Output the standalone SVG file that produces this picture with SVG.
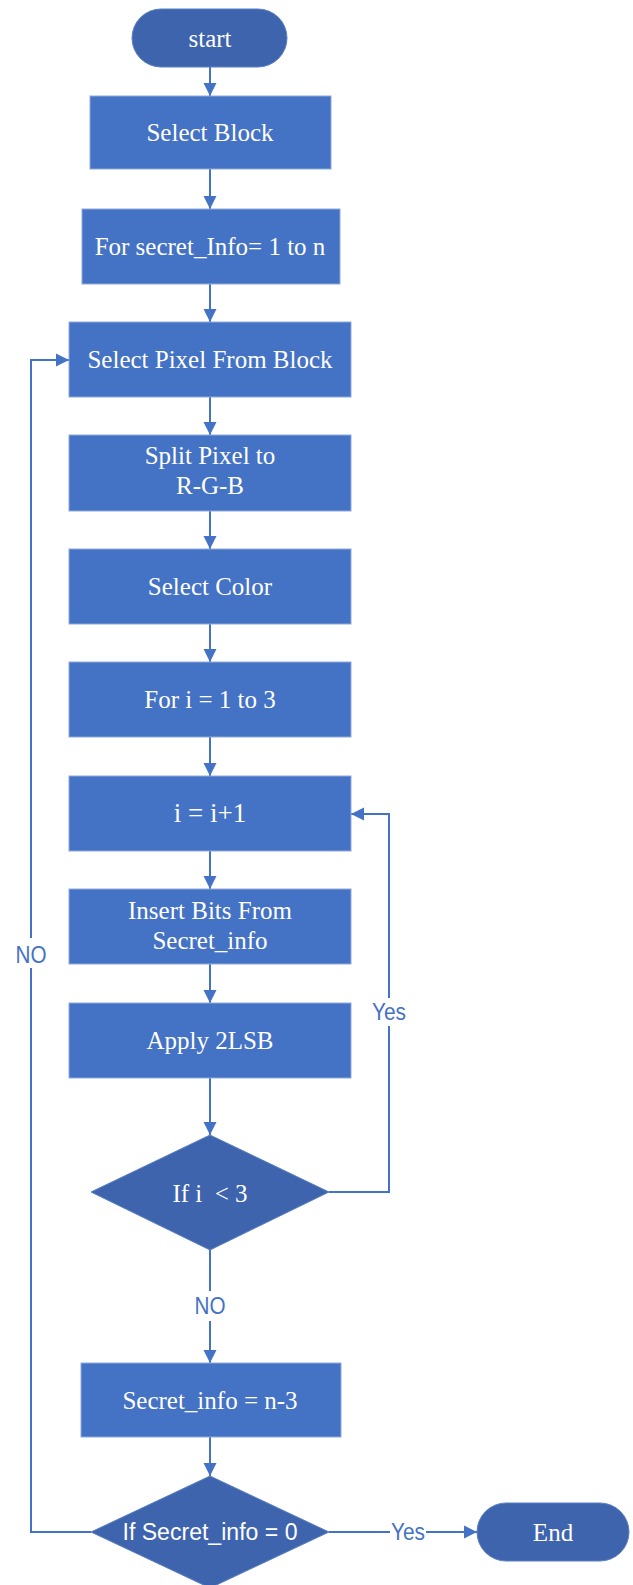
<svg xmlns="http://www.w3.org/2000/svg" width="633" height="1585" viewBox="0 0 633 1585">
<style>
.box{fill:#4472C4;stroke:#8FAADC;stroke-width:1}
.term{fill:#3E64AD;stroke:#5B7FC4;stroke-width:1}
.dia{fill:#3E64AD;stroke:#5B7FC4;stroke-width:1}
.t{font-family:"Liberation Serif","Times New Roman",serif;font-size:25px;fill:#ffffff;text-anchor:middle}
.ts{font-family:"Liberation Sans",Arial,sans-serif;font-size:23px;fill:#ffffff;text-anchor:middle}
.lbl{font-family:"Liberation Sans",Arial,sans-serif;font-size:23px;fill:#4472C4;text-anchor:middle}
.ln{fill:none;stroke:#4472C4;stroke-width:2}
.gap{fill:#ffffff}
</style>
<defs>
<marker id="ah" markerUnits="userSpaceOnUse" markerWidth="14" markerHeight="14" refX="13" refY="7" orient="auto">
<path d="M0,0.5 L13,7 L0,13.5 Z" fill="#4472C4"/>
</marker>
</defs>
<rect width="633" height="1585" fill="#ffffff"/>
<g id="connectors">
<line class="ln" x1="210" y1="67" x2="210" y2="96" marker-end="url(#ah)"/>
<line class="ln" x1="210" y1="169" x2="210" y2="209" marker-end="url(#ah)"/>
<line class="ln" x1="210" y1="284" x2="210" y2="322" marker-end="url(#ah)"/>
<line class="ln" x1="210" y1="397" x2="210" y2="435" marker-end="url(#ah)"/>
<line class="ln" x1="210" y1="511" x2="210" y2="549" marker-end="url(#ah)"/>
<line class="ln" x1="210" y1="624" x2="210" y2="662" marker-end="url(#ah)"/>
<line class="ln" x1="210" y1="737" x2="210" y2="776" marker-end="url(#ah)"/>
<line class="ln" x1="210" y1="851" x2="210" y2="889" marker-end="url(#ah)"/>
<line class="ln" x1="210" y1="964" x2="210" y2="1003" marker-end="url(#ah)"/>
<line class="ln" x1="210" y1="1078" x2="210" y2="1135" marker-end="url(#ah)"/>
<line class="ln" x1="210" y1="1250" x2="210" y2="1363" marker-end="url(#ah)"/>
<line class="ln" x1="210" y1="1437" x2="210" y2="1476" marker-end="url(#ah)"/>
<line class="ln" x1="329" y1="1532" x2="477" y2="1532" marker-end="url(#ah)"/>
<polyline class="ln" points="329,1192 389,1192 389,814 351,814" marker-end="url(#ah)"/>
<polyline class="ln" points="91,1532 31,1532 31,360 69,360" marker-end="url(#ah)"/>
<rect class="gap" x="14" y="938" width="34" height="30"/>
<text class="lbl" x="31" y="963" textLength="31" lengthAdjust="spacingAndGlyphs">NO</text>
<rect class="gap" x="371" y="998" width="36" height="28"/>
<text class="lbl" x="389" y="1020" textLength="34" lengthAdjust="spacingAndGlyphs">Yes</text>
<rect class="gap" x="193" y="1291" width="34" height="30"/>
<text class="lbl" x="210" y="1314" textLength="31" lengthAdjust="spacingAndGlyphs">NO</text>
<rect class="gap" x="390" y="1519" width="36" height="28"/>
<text class="lbl" x="408" y="1540" textLength="34" lengthAdjust="spacingAndGlyphs">Yes</text>
</g>
<g id="start"><rect class="term" x="132" y="9" width="155" height="58" rx="29"/><text class="t" x="210" y="47">start</text></g>
<g id="select-block"><rect class="box" x="90" y="96" width="241" height="73"/><text class="t" x="210" y="141">Select Block</text></g>
<g id="for-secret"><rect class="box" x="82" y="209" width="258" height="75"/><text class="t" x="210" y="255">For secret_Info= 1 to n</text></g>
<g id="select-pixel"><rect class="box" x="69" y="322" width="282" height="75"/><text class="t" x="210" y="368">Select Pixel From  Block</text></g>
<g id="split-pixel"><rect class="box" x="69" y="435" width="282" height="76"/><text class="t" x="210" y="464">Split Pixel to</text><text class="t" x="210" y="494">R-G-B</text></g>
<g id="select-color"><rect class="box" x="69" y="549" width="282" height="75"/><text class="t" x="210" y="595">Select Color</text></g>
<g id="for-i"><rect class="box" x="69" y="662" width="282" height="75"/><text class="t" x="210" y="708">For i = 1 to 3</text></g>
<g id="i-inc"><rect class="box" x="69" y="776" width="282" height="75"/><text class="t" x="210" y="822" style="font-size:27px">i = i+1</text></g>
<g id="insert-bits"><rect class="box" x="69" y="889" width="282" height="75"/><text class="t" x="210" y="919">Insert Bits From</text><text class="t" x="210" y="949">Secret_info</text></g>
<g id="apply-2lsb"><rect class="box" x="69" y="1003" width="282" height="75"/><text class="t" x="210" y="1049">Apply 2LSB</text></g>
<g id="if-i"><polygon class="dia" points="210,1135 329,1192 210,1250 91,1192"/><text class="t" x="210" y="1202" xml:space="preserve">If i  &lt; 3</text></g>
<g id="secret-n3"><rect class="box" x="81" y="1363" width="260" height="74"/><text class="t" x="210" y="1409">Secret_info = n-3</text></g>
<g id="if-secret"><polygon class="dia" points="210,1476 329,1532 210,1588 91,1532"/><text class="ts" x="210" y="1540" textLength="175" lengthAdjust="spacingAndGlyphs">If Secret_info = 0</text></g>
<g id="end"><rect class="term" x="477" y="1503" width="152" height="58" rx="29"/><text class="t" x="553" y="1541">End</text></g>
</svg>
